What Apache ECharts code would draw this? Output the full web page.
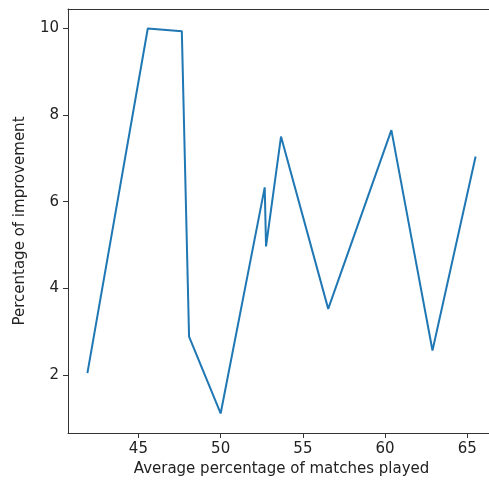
<!DOCTYPE html>
<html>
<head>
<meta charset="utf-8">
<script src="https://cdn.jsdelivr.net/npm/echarts@6/dist/echarts.min.js"></script>
<style>
html,body{margin:0;padding:0;background:#fff;}
#chart{width:489px;height:481px;}
</style>
</head>
<body>
<div id="chart"></div>
<script>
const matchesPlayed = [41.9, 45.57, 47.64, 48.08, 50.0, 52.68, 52.76, 53.67, 56.54, 60.38, 62.88, 65.5];
const improvement = [2.05, 9.99, 9.93, 2.89, 1.12, 6.33, 4.97, 7.50, 3.53, 7.65, 2.57, 7.04];
const xTicks = [45, 50, 55, 60, 65];
const yTicks = [2, 4, 6, 8, 10];

const chart = echarts.init(document.getElementById('chart'), null, {renderer: 'canvas'});
const font = 'DejaVu Sans';
const axisColor = '#333';
chart.setOption({
  animation: false,
  backgroundColor: '#fff',
  grid: {left: 68, top: 9, width: 427, bottom: 48, outerBoundsMode: 'none', containLabel: false, show: false},
  xAxis: [{
    type: 'value', min: 40.72, max: 66.68,
    name: 'Average percentage of matches played', nameLocation: 'middle', nameGap: 29,
    nameTextStyle: {fontFamily: font, fontSize: 15, color: '#222'},
    axisLine: {show: true, lineStyle: {color: axisColor, width: 1}},
    axisTick: {show: true, length: 5, inside: false, customValues: xTicks, lineStyle: {color: axisColor}},
    axisLabel: {fontFamily: font, fontSize: 15, color: '#222', margin: 9, customValues: xTicks},
    splitLine: {show: false}
  }, {
    type: 'value', position: 'top', min: 40.72, max: 66.68,
    axisLine: {show: true, lineStyle: {color: axisColor, width: 1}},
    axisTick: {show: false}, axisLabel: {show: false}, splitLine: {show: false}
  }],
  yAxis: {
    type: 'value', min: 0.67, max: 10.44,
    name: 'Percentage of improvement', nameLocation: 'middle', nameGap: 40, nameRotate: 90,
    nameTextStyle: {fontFamily: font, fontSize: 15, color: '#222'},
    axisLine: {show: true, lineStyle: {color: axisColor, width: 1}},
    axisTick: {show: true, length: 5, inside: false, customValues: yTicks, lineStyle: {color: axisColor}},
    axisLabel: {fontFamily: font, fontSize: 15, color: '#222', margin: 9, customValues: yTicks},
    splitLine: {show: false}
  },
  series: [{
    type: 'line',
    xAxisIndex: 0,
    data: matchesPlayed.map((x, i) => [x, improvement[i]]),
    showSymbol: false,
    symbol: 'none',
    lineStyle: {color: '#1f77b4', width: 2},
    itemStyle: {color: '#1f77b4'}
  }]
});
</script>
</body>
</html>
